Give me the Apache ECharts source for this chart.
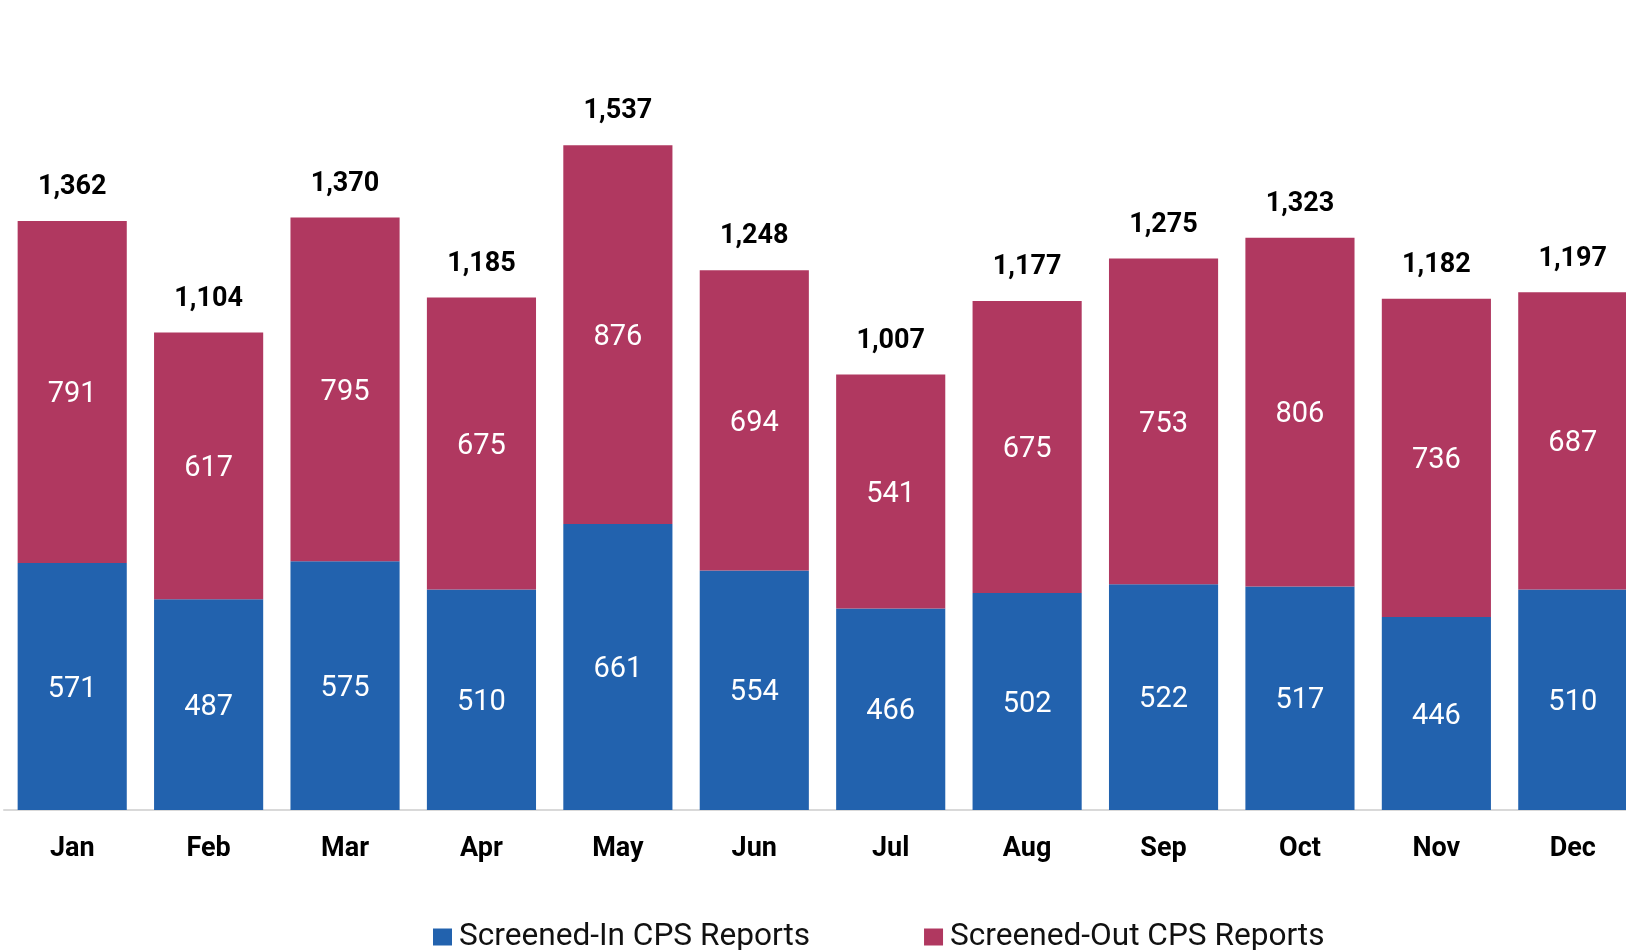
<!DOCTYPE html>
<html>
<head>
<meta charset="utf-8">
<script src="https://cdn.jsdelivr.net/npm/echarts@6/dist/echarts.min.js"></script>
<style>
    html, body {margin: 0; padding: 0; background: #fff;}
    #bar {width: 1626px; height: 950px;}
</style>
</head>
<body>
<div id="bar"></div>
<script>
var months = ['Jan', 'Feb', 'Mar', 'Apr', 'May', 'Jun', 'Jul', 'Aug', 'Sep', 'Oct', 'Nov', 'Dec'];
var screenedIn = [571, 487, 575, 510, 661, 554, 466, 502, 522, 517, 446, 510];
var screenedOut = [791, 617, 795, 675, 876, 694, 541, 675, 753, 806, 736, 687];
var totals = [1362, 1104, 1370, 1185, 1537, 1248, 1007, 1177, 1275, 1323, 1182, 1197];

paintBar();

function paintBar() {
    var myChart = echarts.init(document.getElementById("bar"));
    var option = {
        textStyle: {fontFamily: 'Roboto'},
        animation: false,
        legend: {
            left: 428,
            top: 916,
            itemWidth: 19,
            itemHeight: 17,
            itemGap: 114,
            icon: 'rect',
            textStyle: {fontSize: 31.6, color: '#111', padding: [0, 0, 0, 2]},
            data: ['Screened-In CPS Reports', 'Screened-Out CPS Reports']
        },
        // grid runs past the right edge, Dec bar is cut off
        grid: {left: 4, width: 1637, top: 118, bottom: 140, outerBoundsMode: 'none', containLabel: false},
        xAxis: {
            type: 'category',
            data: months,
            axisLine: {lineStyle: {color: '#d9d9d9', width: 2}},
            axisTick: {show: false},
            axisLabel: {fontSize: 27, fontWeight: 'bold', color: '#000', margin: 26}
        },
        yAxis: {
            type: 'value',
            min: 0,
            max: 1600,
            show: false,
            splitLine: {show: false}
        },
        series: [
            {
                name: 'Screened-In CPS Reports',
                type: 'bar',
                stack: 'total',
                barWidth: '80%',
                itemStyle: {color: '#2262ae'},
                label: {show: true, position: 'inside', offset: [0, 3], color: '#fff', fontSize: 29},
                data: screenedIn
            },
            {
                name: 'Screened-Out CPS Reports',
                type: 'bar',
                stack: 'total',
                itemStyle: {color: '#b03860'},
                label: {show: true, position: 'inside', offset: [0, 3], color: '#fff', fontSize: 29},
                data: screenedOut
            },
            {
                // totals on top
                name: 'Total',
                type: 'bar',
                stack: 'total',
                itemStyle: {color: 'transparent'},
                label: {
                    show: true,
                    position: 'insideBottom',
                    distance: 20,
                    fontSize: 27,
                    fontWeight: 'bold',
                    color: '#000',
                    formatter: function(p) {
                        return totals[p.dataIndex].toLocaleString('en-US');
                    }
                },
                data: totals.map(function() { return 0; })
            }
        ]
    };
    myChart.setOption(option);
}
</script>
</body>
</html>
